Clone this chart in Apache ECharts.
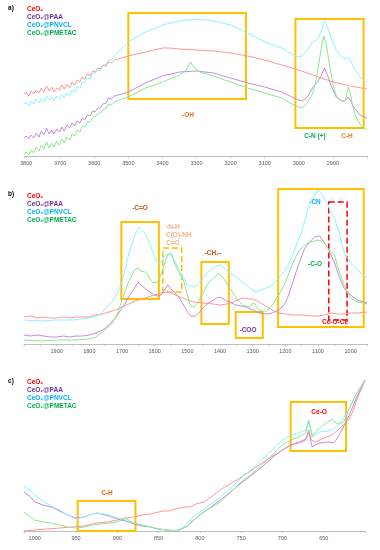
<!DOCTYPE html>
<html><head><meta charset="utf-8">
<script src="https://cdn.jsdelivr.net/npm/echarts@6/dist/echarts.min.js"></script>
<style>html,body{margin:0;padding:0;background:#fff}#c{width:380px;height:550px}</style>
</head><body><div id="c"></div>
<script>
// Series names
const names = ['CeO₂', 'CeO₂@PAA', 'CeO₂@PNVCL', 'CeO₂@PMETAC'];
// Tick labels
const aTicks = [3800,3700,3600,3500,3400,3300,3200,3100,3000,2900];
const bTicks = [1900,1800,1700,1600,1500,1400,1300,1200,1100,1000];
const cTicks = [1000,950,900,850,800,750,700,650];

// Panel a: [wavenumber, relative intensity]
const a_CeO2 = [[3806,62],[3800,64],[3792,60],[3785,65],[3778,62],[3770,66],[3762,63],[3755,68],[3748,64],[3740,70],[3732,65],[3725,69],[3718,64],[3710,68],[3702,66],[3695,71],[3688,67],[3680,72],[3672,68],[3665,74],[3658,71],[3650,76],[3642,74],[3635,79],[3628,77],[3620,82],[3612,80],[3605,85],[3598,84],[3590,88],[3582,87],[3575,91],[3565,90],[3558,94],[3550,93],[3540,96],[3520,98],[3500,100],[3450,104],[3400,108],[3380,108],[3350,107],[3300,106],[3250,105],[3200,103],[3150,100],[3100,96],[3050,91],[3000,86],[2950,80],[2900,74],[2850,70],[2800,67]];
const a_PAA = [[3806,18],[3800,20],[3792,17],[3785,21],[3778,18],[3770,23],[3762,19],[3755,25],[3748,21],[3740,28],[3732,22],[3725,26],[3718,22],[3710,27],[3702,24],[3695,29],[3688,25],[3680,31],[3672,28],[3665,33],[3658,30],[3650,35],[3642,33],[3635,38],[3628,36],[3620,41],[3612,40],[3605,45],[3598,44],[3590,48],[3582,48],[3575,52],[3565,53],[3558,58],[3550,57],[3540,60],[3520,62],[3500,64],[3450,73],[3400,80],[3350,84],[3300,85],[3250,83],[3200,78],[3150,73],[3100,69],[3050,64],[3020,59],[3000,56],[2990,55],[2975,59],[2960,68],[2945,74],[2935,80],[2925,88],[2915,80],[2905,70],[2890,59],[2875,55],[2865,55],[2855,59],[2848,55],[2840,49],[2820,41],[2800,38]];
const a_PNVCL = [[3806,52],[3800,54],[3792,50],[3785,55],[3778,52],[3770,57],[3762,53],[3755,58],[3748,54],[3740,60],[3732,56],[3725,59],[3718,55],[3710,60],[3702,57],[3695,61],[3688,58],[3680,63],[3672,60],[3665,66],[3658,64],[3650,70],[3642,68],[3635,74],[3628,73],[3620,78],[3612,77],[3605,82],[3598,83],[3590,86],[3582,85],[3575,90],[3565,92],[3558,96],[3550,96],[3540,100],[3520,107],[3500,114],[3450,124],[3400,131],[3350,135],[3300,137],[3250,135],[3200,131],[3150,123],[3100,114],[3050,108],[3020,102],[3005,99],[2990,100],[2975,106],[2960,114],[2945,117],[2935,124],[2925,135],[2915,128],[2905,118],[2890,106],[2875,99],[2865,97],[2855,99],[2848,96],[2840,89],[2820,79],[2800,73]];
const a_PMETAC = [[3806,2],[3800,4],[3792,1],[3785,6],[3778,3],[3770,9],[3762,5],[3755,11],[3748,7],[3740,14],[3732,8],[3725,13],[3718,9],[3710,15],[3702,11],[3695,17],[3688,13],[3680,19],[3672,16],[3665,22],[3658,20],[3650,26],[3642,24],[3635,30],[3628,29],[3620,34],[3612,34],[3605,38],[3598,39],[3590,42],[3582,43],[3575,46],[3565,48],[3558,52],[3550,51],[3540,54],[3520,57],[3500,59],[3450,68],[3400,74],[3350,81],[3330,86],[3318,94],[3305,88],[3290,84],[3250,80],[3200,74],[3150,68],[3100,63],[3050,58],[3020,52],[3000,49],[2990,48],[2975,53],[2960,62],[2950,75],[2940,95],[2932,112],[2926,120],[2920,113],[2912,95],[2900,72],[2890,60],[2875,55],[2865,55],[2860,60],[2855,69],[2850,64],[2843,52],[2835,41],[2820,31],[2800,26]];

// Panel b
const b_CeO2 = [[2000,27],[1980,28],[1960,26],[1940,27],[1920,26],[1900,26],[1880,27],[1860,26],[1840,27],[1820,27],[1800,27],[1780,29],[1760,30],[1740,32],[1720,34],[1700,37],[1680,40],[1660,43],[1640,45],[1620,47],[1600,49],[1580,51],[1560,52],[1550,51],[1530,48],[1515,46],[1500,44],[1480,42],[1450,41],[1420,40],[1400,39],[1380,40],[1360,42],[1340,45],[1325,46],[1310,45],[1300,45],[1280,42],[1260,38],[1240,34],[1220,31],[1200,30],[1180,29],[1150,29],[1120,28],[1100,28],[1080,29],[1060,31],[1040,30],[1020,30],[1000,31],[980,31],[950,32]];
const b_PAA = [[2000,9],[1980,8],[1960,9],[1940,8],[1920,7],[1900,7],[1880,8],[1860,7],[1840,8],[1820,8],[1800,9],[1780,11],[1765,13],[1750,16],[1735,21],[1720,26],[1710,31],[1700,36],[1690,41],[1680,47],[1670,52],[1660,57],[1650,62],[1645,60],[1640,58],[1630,56],[1620,53],[1610,51],[1600,49],[1590,48],[1580,49],[1570,54],[1560,59],[1555,57],[1550,55],[1540,52],[1530,48],[1520,44],[1510,38],[1500,32],[1490,28],[1485,27],[1475,28],[1465,31],[1450,37],[1435,41],[1420,44],[1410,46],[1400,47],[1390,45],[1380,43],[1365,41],[1350,39],[1335,38],[1320,37],[1300,34],[1280,31],[1260,30],[1240,31],[1220,34],[1210,37],[1200,41],[1190,49],[1180,59],[1170,69],[1160,79],[1150,88],[1140,96],[1130,100],[1120,104],[1110,107],[1105,109],[1095,108],[1090,106],[1080,101],[1070,96],[1060,89],[1050,82],[1040,72],[1030,63],[1020,56],[1010,52],[1000,49],[980,44],[960,42],[950,41]];
const b_PNVCL = [[2000,24],[1950,23],[1900,24],[1850,24],[1800,26],[1780,28],[1770,29],[1760,32],[1750,36],[1735,41],[1720,47],[1710,54],[1700,62],[1690,75],[1680,89],[1670,100],[1660,109],[1650,117],[1640,114],[1630,111],[1620,104],[1610,96],[1600,87],[1590,81],[1580,82],[1570,88],[1560,90],[1555,91],[1548,88],[1540,84],[1530,77],[1520,71],[1510,65],[1500,59],[1490,58],[1480,57],[1470,59],[1460,62],[1450,67],[1440,71],[1430,74],[1420,76],[1410,78],[1400,79],[1390,77],[1380,74],[1365,70],[1350,67],[1335,63],[1320,59],[1305,55],[1290,52],[1275,54],[1260,56],[1240,59],[1220,66],[1200,74],[1190,80],[1180,87],[1165,100],[1150,112],[1140,124],[1130,136],[1120,144],[1110,149],[1100,154],[1090,151],[1080,145],[1070,139],[1060,131],[1050,126],[1040,116],[1030,104],[1020,92],[1010,86],[1000,81],[980,74],[960,69],[950,66]];
const b_PMETAC = [[2000,4],[1950,3],[1900,4],[1850,4],[1800,5],[1780,7],[1760,12],[1745,16],[1730,21],[1720,26],[1710,34],[1700,44],[1690,53],[1680,62],[1670,68],[1662,74],[1656,72],[1650,76],[1644,73],[1638,75],[1630,72],[1625,70],[1620,69],[1612,64],[1605,61],[1600,59],[1592,62],[1585,66],[1578,72],[1570,80],[1563,87],[1558,90],[1553,88],[1548,91],[1543,84],[1537,80],[1530,74],[1520,68],[1510,62],[1500,49],[1492,40],[1485,37],[1478,37],[1470,40],[1460,46],[1450,52],[1440,59],[1430,63],[1420,66],[1412,68],[1405,71],[1398,69],[1390,66],[1380,61],[1370,56],[1360,51],[1350,46],[1340,42],[1330,39],[1320,38],[1310,37],[1302,40],[1295,41],[1288,37],[1280,34],[1270,33],[1260,32],[1250,35],[1240,39],[1230,44],[1220,49],[1210,55],[1200,62],[1190,70],[1180,79],[1170,86],[1160,92],[1150,96],[1140,99],[1130,101],[1120,102],[1110,103],[1100,104],[1090,103],[1080,101],[1070,96],[1065,94],[1058,91],[1050,89],[1045,84],[1040,77],[1030,68],[1020,59],[1010,52],[1000,46],[990,44],[980,42],[960,41],[950,40]];

// Panel c
const c_CeO2 = [[1013,0],[1000,1],[985,2],[970,3],[955,4],[940,5],[925,8],[912,9],[900,11],[890,13],[880,14],[870,16],[860,17],[850,19],[845,20],[838,20],[830,22],[825,23],[818,24],[812,24],[805,27],[800,28],[795,29],[790,32],[785,35],[780,38],[775,41],[770,44],[765,46],[760,49],[755,51],[750,54],[745,57],[740,59],[735,62],[730,65],[725,68],[720,71],[715,73],[710,76],[705,78],[700,81],[690,86],[680,89],[672,92],[668,101],[665,91],[660,89],[650,93],[640,96],[630,103],[620,111],[615,119],[610,131],[605,141],[600,151]];
const c_PAA = [[1013,39],[1005,34],[1000,29],[990,26],[980,24],[970,20],[960,16],[950,13],[940,14],[930,17],[925,18],[915,16],[910,15],[900,12],[890,10],[880,7],[870,5],[860,4],[850,2],[840,1],[830,0],[825,1],[815,5],[810,9],[800,16],[790,22],[775,31],[760,41],[750,48],[740,54],[725,64],[710,75],[700,81],[690,86],[680,88],[672,91],[668,99],[664,84],[660,86],[655,88],[645,89],[638,88],[635,91],[628,101],[620,114],[610,134],[600,151]];
const c_PNVCL = [[1013,45],[1005,40],[1000,36],[990,30],[980,25],[970,21],[960,16],[950,12],[940,14],[930,17],[925,18],[915,17],[910,16],[900,13],[890,11],[880,8],[870,6],[860,4],[850,2],[840,1],[830,0],[825,1],[820,4],[815,8],[810,13],[800,19],[790,25],[775,34],[760,45],[750,53],[740,60],[725,71],[710,83],[700,91],[690,96],[680,98],[672,101],[668,111],[664,96],[660,97],[655,99],[645,100],[640,101],[630,108],[620,121],[610,138],[600,151]];
const c_PMETAC = [[1013,19],[1005,14],[1000,11],[990,9],[980,8],[970,6],[960,4],[950,3],[940,4],[930,6],[920,7],[910,8],[900,9],[895,11],[890,13],[885,10],[880,8],[870,6],[860,4],[850,2],[840,1],[830,0],[825,1],[815,5],[810,9],[800,16],[790,22],[775,29],[760,41],[750,49],[740,55],[725,66],[710,78],[700,86],[690,91],[680,94],[672,98],[668,110],[664,94],[660,99],[655,103],[650,106],[645,109],[640,112],[635,108],[630,107],[625,110],[620,121],[610,138],[600,151]];

const lineColors = ['#FF9696', '#C98ADB', '#86F5FF', '#8EE68E'];
const textColors = ['#FF0000', '#7030A0', '#00B0F0', '#00B050'];
const ORANGE = '#FFC000';

function box(x1, y1, x2, y2, color, dashed) {
  return [{coord: [x1, y1], itemStyle: {color: 'rgba(0,0,0,0)', borderColor: color, borderWidth: dashed ? 1.5 : 2, borderType: dashed ? 'dashed' : 'solid'}}, {coord: [x2, y2]}];
}
const aBoxes = [box(3500, 143, 3155, 57, ORANGE), box(3010, 137, 2810, 28, ORANGE)];
const bBoxes = [box(1702, 122, 1587, 45, ORANGE), box(1575, 96, 1517, 52, ORANGE, true), box(1457, 82, 1373, 20, ORANGE), box(1352, 32, 1269, 6, ORANGE), box(1222, 155, 960, 17, ORANGE), box(1067, 142, 1011, 24, '#FF0000', true)];
const cBoxes = [box(690, 129, 623, 80, ORANGE), box(948, 30, 878, 0, ORANGE)];

const panels = [
  {data: [a_CeO2, a_PAA, a_PNVCL, a_PMETAC], boxes: aBoxes},
  {data: [b_CeO2, b_PAA, b_PNVCL, b_PMETAC], boxes: bBoxes},
  {data: [c_CeO2, c_PAA, c_PNVCL, c_PMETAC], boxes: cBoxes}
];

const FONT = 'Liberation Sans, Arial, sans-serif';
function xAxis(idx, min, max, interval, ticks) {
  return {
    type: 'value', gridIndex: idx, inverse: true, min: min, max: max, interval: interval,
    axisLine: {show: true, lineStyle: {color: '#BFBFBF', width: 1}},
    axisTick: {show: true, length: 2, lineStyle: {color: '#BFBFBF'}},
    splitLine: {show: false},
    axisLabel: {fontSize: 5.5, color: '#595959', margin: 4, fontFamily: FONT,
      formatter: v => ticks.indexOf(v) >= 0 ? String(v) : ''}
  };
}
function yAxis(idx, max) {
  return {type: 'value', gridIndex: idx, min: 0, max: max, show: false};
}

const series = [];
panels.forEach((p, pi) => {
  p.data.forEach((d, si) => {
    const s = {
      name: names[si], type: 'line', xAxisIndex: pi, yAxisIndex: pi, data: d,
      showSymbol: false, symbol: 'none', silent: true, animation: false,
      lineStyle: {color: lineColors[si], width: 1}, itemStyle: {color: lineColors[si]}
    };
    if (si === 0) {
      s.markArea = {silent: true, label: {show: false}, data: p.boxes};
    }
    series.push(s);
  });
});

function legend(top) {
  return {
    left: 22, top: top, orient: 'vertical', itemWidth: 0, itemHeight: 0, itemGap: 0, icon: 'none',
    selectedMode: false, padding: 0,
    textStyle: {fontSize: 6.5, fontWeight: 'bold', fontFamily: FONT, lineHeight: 8},
    data: names.map((n, i) => ({name: n, textStyle: {color: textColors[i]}}))
  };
}

function txt(x, y, text, color, size) {
  return {type: 'text', x: x, y: y, silent: true, z: 100,
    style: {text: text, fill: color, font: 'bold ' + (size || 6.5) + 'px ' + FONT, textAlign: 'center', textVerticalAlign: 'middle'}};
}

const option = {
  animation: false,
  backgroundColor: '#fff',
  grid: [
    {left: 24, right: 13, top: 5, height: 151},
    {left: 24, right: 13, top: 185, height: 159},
    {left: 24, right: 15, top: 380, height: 151}
  ],
  xAxis: [xAxis(0, 2800, 3806, 100, aTicks), xAxis(1, 950, 2000, 50, bTicks), xAxis(2, 600, 1013, 50, cTicks)],
  yAxis: [yAxis(0, 151), yAxis(1, 159), yAxis(2, 151)],
  legend: [legend(5), legend(192), legend(378)],
  graphic: [
    txt(11, 8, 'a)', '#000'), txt(11, 194, 'b)', '#000'), txt(11, 381, 'c)', '#000'),
    txt(188, 115, '-OH', '#E2701E'),
    txt(315, 136, 'C-N (+)', '#00B050'),
    txt(347, 136, 'C-H', '#ED7D31'),
    txt(140, 208, '-C=O', '#C55A11'),
    {type: 'text', x: 166, y: 223, silent: true, z: 100, style: {text: '-N-H\nC(O)-NH\nC=O', fill: '#F4B183', font: 'bold 6.5px ' + FONT, lineHeight: 8, textAlign: 'left', textVerticalAlign: 'top'}},
    txt(213, 253, '-CH₂-', '#C55A11'),
    txt(248, 330, '-COO', '#7030A0'),
    txt(315, 202, '-CN', '#00B0F0'),
    txt(315, 264, '-C-O', '#00B050'),
    txt(335, 322, 'Ce-O-Ce', '#FF0000'),
    txt(319, 412, 'Ce-O', '#FF0000'),
    txt(107, 493, 'C-H', '#E46C0A')
  ],
  series: series
};
const chart = echarts.init(document.getElementById('c'), null, {renderer: 'canvas'});
chart.setOption(option);
</script></body></html>
